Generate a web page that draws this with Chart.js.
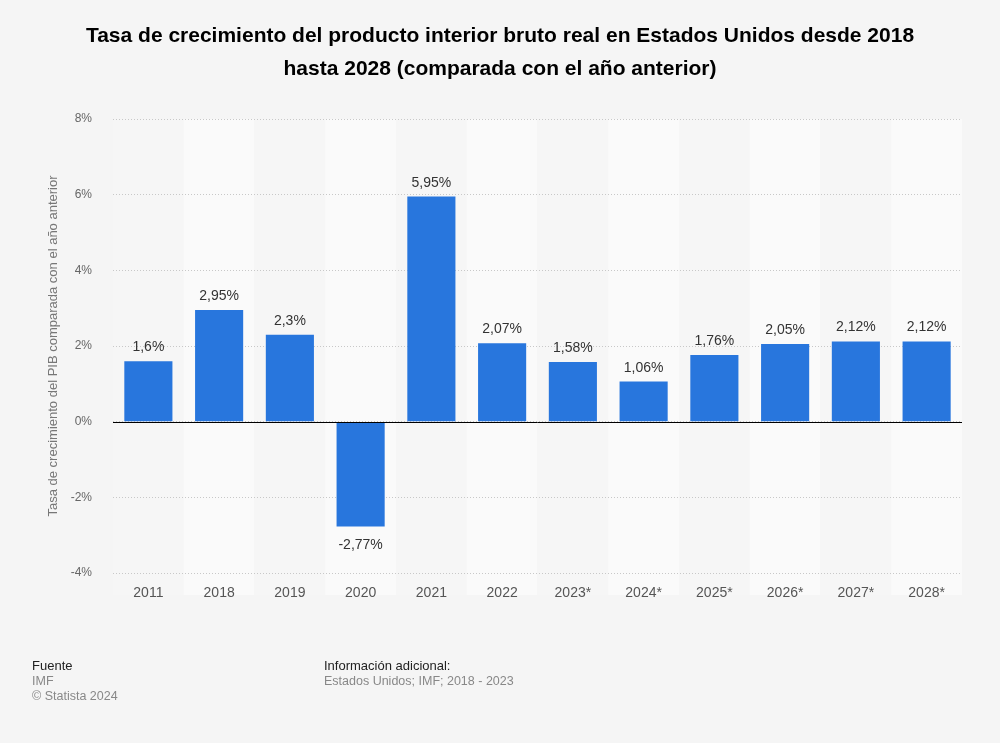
<!DOCTYPE html>
<html>
<head>
<meta charset="utf-8">
<script src="https://cdn.jsdelivr.net/npm/chart.js@4/dist/chart.umd.min.js"></script>
<style>
  html, body { margin: 0; padding: 0; background: #f5f5f5; }
  #wrap { width: 1000px; height: 743px; position: relative; }
</style>
</head>
<body>
<div id="wrap"><canvas id="c" width="1000" height="743"></canvas></div>
<script>
const categories = ['2011', '2018', '2019', '2020', '2021', '2022', '2023*', '2024*', '2025*', '2026*', '2027*', '2028*'];
const growth = [1.6, 2.95, 2.3, -2.77, 5.95, 2.07, 1.58, 1.06, 1.76, 2.05, 2.12, 2.12];
const yTicks = [-4, -2, 0, 2, 4, 6, 8];
const titleLines = ['Tasa de crecimiento del producto interior bruto real en Estados Unidos desde 2018', 'hasta 2028 (comparada con el año anterior)'];
const yAxisTitle = 'Tasa de crecimiento del PIB comparada con el año anterior';

const FONT = '"Liberation Sans", Arial, Helvetica, sans-serif';
const fmt = v => String(v).replace('.', ',') + '%';

const decor = {
  id: 'decor',
  beforeDraw(chart) {
    const { ctx, chartArea: a } = chart;
    ctx.save();
    ctx.fillStyle = '#f5f5f5';
    ctx.fillRect(0, 0, chart.width, chart.height);
    const w = (a.right - a.left) / categories.length;
    categories.forEach((c, i) => {
      ctx.fillStyle = (i % 2 === 1) ? '#fafafa' : '#f6f6f6';
      ctx.fillRect(a.left + i * w, a.top, w, a.bottom - a.top + 22);
    });
    ctx.restore();
  },
  afterDatasetsDraw(chart) {
    const { ctx, chartArea: a, scales: { y } } = chart;
    ctx.save();
    const y0 = Math.round(y.getPixelForValue(0)) + 0.5;
    ctx.strokeStyle = '#000';
    ctx.lineWidth = 1;
    ctx.beginPath(); ctx.moveTo(a.left, y0); ctx.lineTo(a.right, y0); ctx.stroke();
    const meta = chart.getDatasetMeta(0);
    ctx.font = '14px ' + FONT;
    ctx.fillStyle = '#333';
    ctx.textAlign = 'center';
    ctx.textBaseline = 'alphabetic';
    meta.data.forEach((bar, i) => {
      const v = growth[i];
      if (v >= 0) {
        ctx.fillText(fmt(v), bar.x, bar.y - 10);
      } else {
        ctx.fillText(fmt(v), bar.x, bar.y + 23);
      }
    });
    ctx.font = 'bold 21px ' + FONT;
    ctx.fillStyle = '#000';
    ctx.textBaseline = 'middle';
    ctx.fillText(titleLines[0], 500, 36);
    ctx.fillText(titleLines[1], 500, 69);
    ctx.save();
    ctx.translate(53, (a.top + a.bottom) / 2);
    ctx.rotate(-Math.PI / 2);
    ctx.font = '13px ' + FONT;
    ctx.fillStyle = '#777';
    ctx.textAlign = 'center';
    ctx.textBaseline = 'middle';
    ctx.fillText(yAxisTitle, 0, 0);
    ctx.restore();
    ctx.textAlign = 'left';
    ctx.textBaseline = 'middle';
    ctx.font = '13px ' + FONT;
    ctx.fillStyle = '#222';
    ctx.fillText('Fuente', 32, 666);
    ctx.fillText('Información adicional:', 324, 666);
    ctx.font = '12.5px ' + FONT;
    ctx.fillStyle = '#888';
    ctx.fillText('IMF', 32, 682);
    ctx.fillText('© Statista 2024', 32, 697);
    ctx.fillText('Estados Unidos; IMF; 2018 - 2023', 324, 682);
    ctx.restore();
  }
};

new Chart(document.getElementById('c'), {
  type: 'bar',
  data: {
    labels: categories,
    datasets: [{
      data: growth,
      backgroundColor: '#2876dd',
      borderWidth: 0,
      barPercentage: 0.68,
      categoryPercentage: 1.0
    }]
  },
  options: {
    responsive: false,
    animation: false,
    devicePixelRatio: 1,
    layout: { padding: { top: 119, right: 38, bottom: 130, left: 0 } },
    plugins: { legend: { display: false }, tooltip: { enabled: false }, title: { display: false } },
    scales: {
      x: {
        grid: { display: false, drawTicks: false },
        border: { display: false },
        ticks: { color: '#555', font: { family: FONT, size: 14 }, padding: 12, maxRotation: 0 },
        afterFit(s) { s.height = 40; }
      },
      y: {
        min: -4, max: 8,
        afterBuildTicks(s) { s.ticks = yTicks.map(v => ({ value: v })); },
        grid: { color: '#c8c8c8', drawTicks: false, lineWidth: 1 },
        border: { display: false, dash: [1, 2] },
        ticks: { color: '#666', font: { family: FONT, size: 12 }, padding: 21, callback: v => v + '%' },
        afterFit(s) { s.width = 113; }
      }
    }
  },
  plugins: [decor]
});
</script>
</body>
</html>
